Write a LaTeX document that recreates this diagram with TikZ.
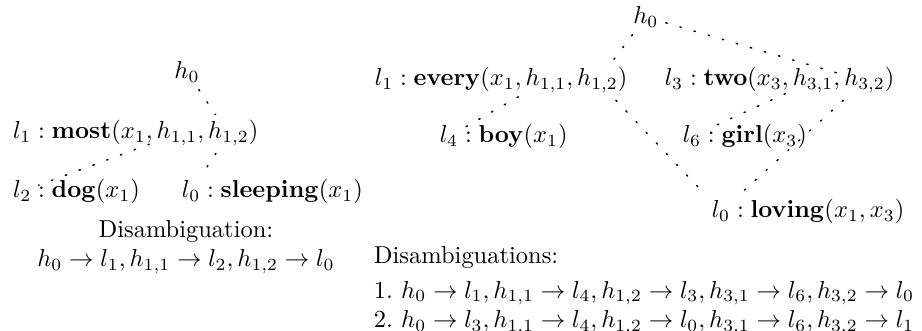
\documentclass[tikz,border=0pt]{standalone}
\usepackage{amsmath,amssymb}
\usetikzlibrary{positioning}

\begin{document}
\begin{tikzpicture}[
  piece/.style={inner sep=3pt, outer sep=0pt},
  link/.style={line width=0.6pt, dash pattern=on 0.6pt off 5.4pt, line cap=round},
  note/.style={inner sep=3pt, outer sep=0pt}
]
\useasboundingbox (0,0) rectangle (13.24,-4.752);

% --- left: most dog sleeping ---
\node[piece] (h0L) at (2.685,-1.034) {$h_0$};

\node[piece, anchor=base west] (l1L) at (0.082,-1.996) {$l_1$};
\node[piece, base right=-6pt of l1L] (mostL) {${}:\mathbf{most}(x_1,\,$};
\node[piece, base right=-6pt of mostL] (h11L) {$h_{1,1}$};
\node[piece, base right=-6pt of h11L] (c1L) {$,\,$};
\node[piece, base right=-6pt of c1L] (h12L) {$h_{1,2}$};
\node[piece, base right=-6pt of h12L] (e1L) {$)$};

\node[piece, anchor=base west] (l2L) at (0.082,-2.843) {$l_2$};
\node[piece, base right=-6pt of l2L] (dogL) {${}:\mathbf{dog}(x_1)$};

\node[piece, anchor=base west] (l0L) at (2.508,-2.843) {$l_0$};
\node[piece, base right=-6pt of l0L] (sleepingL) {${}:\mathbf{sleeping}(x_1)$};

\draw[link] (h0L) -- (h12L);
\draw[link] (h11L) -- (l2L);
\draw[link] (h12L) -- (l0L);

\node[note, align=center] (disL) at (2.67,-3.546)
  {Disambiguation:\\$h_0\to l_1, h_{1,1}\to l_2, h_{1,2}\to l_0$};

% --- right: every boy loving two girl ---
\node[piece] (h0R) at (9.275,-0.244) {$h_0$};

\node[piece, anchor=base west] (l1R) at (5.279,-1.235) {$l_1$};
\node[piece, base right=-6pt of l1R] (everyR) {${}:\mathbf{every}(x_1,\,$};
\node[piece, base right=-6pt of everyR] (h11R) {$h_{1,1}$};
\node[piece, base right=-6pt of h11R] (c1R) {$,\,$};
\node[piece, base right=-6pt of c1R] (h12R) {$h_{1,2}$};
\node[piece, base right=-6pt of h12R] (e1R) {$)$};

\node[piece, anchor=base west] (l3R) at (9.443,-1.235) {$l_3$};
\node[piece, base right=-6pt of l3R] (twoR) {${}:\mathbf{two}(x_3,\,$};
\node[piece, base right=-6pt of twoR] (h31R) {$h_{3,1}$};
\node[piece, base right=-6pt of h31R] (c3R) {$,\,$};
\node[piece, base right=-6pt of c3R] (h32R) {$h_{3,2}$};
\node[piece, base right=-6pt of h32R] (e3R) {$)$};

\node[piece, anchor=base west] (l4R) at (6.212,-2.053) {$l_4$};
\node[piece, base right=-6pt of l4R] (boyR) {${}:\mathbf{boy}(x_1)$};

\node[piece, anchor=base west] (l6R) at (9.701,-2.053) {$l_6$};
\node[piece, base right=-6pt of l6R] (girlR) {${}:\mathbf{girl}(x_3)$};

\node[piece, anchor=base west] (l0R) at (10.118,-3.13) {$l_0$};
\node[piece, base right=-6pt of l0R] (lovingR) {${}:\mathbf{loving}(x_1,x_3)$};

\draw[link] (h0R) -- (h12R);
\draw[link] (h0R) -- (h32R);
\draw[link] (h11R) -- (l4R);
\draw[link] (h12R) -- (l0R);
\draw[link] (h31R) -- (l6R);
\draw[link] (h32R) -- (l0R);

\node[note, align=left, anchor=north west] (disR) at (5.265,-3.44)
  {Disambiguations:\\[2pt]
   1.\ $h_0\to l_1, h_{1,1}\to l_4, h_{1,2}\to l_3, h_{3,1}\to l_6, h_{3,2}\to l_0$\\
   2.\ $h_0\to l_3, h_{1,1}\to l_4, h_{1,2}\to l_0, h_{3,1}\to l_6, h_{3,2}\to l_1$};

\end{tikzpicture}
\end{document}
